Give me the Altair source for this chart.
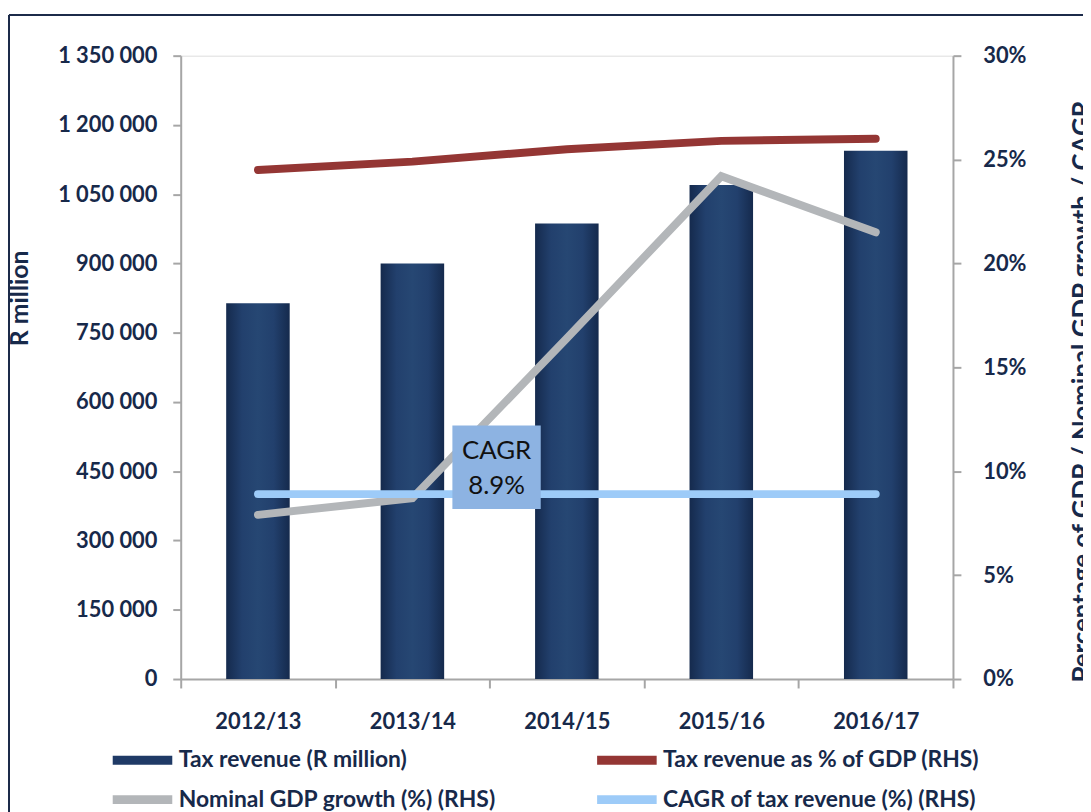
import altair as alt
import pandas as pd

years = ["2012/13", "2013/14", "2014/15", "2015/16", "2016/17"]
tax_revenue = [813826, 899956, 986295, 1069983, 1144081]
tax_pct_gdp = [24.5, 24.9, 25.5, 25.9, 26.0]
gdp_growth = [7.9, 8.7, 16.4, 24.2, 21.5]
cagr = [8.9, 8.9, 8.9, 8.9, 8.9]

series_names = [
    "Tax revenue (R million)",
    "Tax revenue as % of GDP (RHS)",
    "Nominal GDP growth (%) (RHS)",
    "CAGR of tax revenue (%) (RHS)",
]
series_colors = ["#1f3a66", "#943634", "#b3b6b9", "#9dcbf8"]

left_ticks = [0, 150000, 300000, 450000, 600000, 750000, 900000, 1050000, 1200000, 1350000]
right_ticks = [0, 5, 10, 15, 20, 25, 30]

annot_year = ["2013/14"]
annot_value = [8.9]
annot_text = [["CAGR", "8.9%"]]

NAVY = "#17294a"
GREY = "#a6a6a6"
FONT = "Lato"

bars_df = pd.DataFrame({"year": years, "tax": tax_revenue})
rows = []
for name, vals in zip(series_names[1:], [tax_pct_gdp, gdp_growth, cagr]):
    for y, v in zip(years, vals):
        rows.append({"year": y, "series": name, "value": v})
lines_df = pd.DataFrame(rows)
ann_df = pd.DataFrame({"year": annot_year, "value": annot_value, "label": annot_text})

xenc = alt.X(
    "year:N",
    sort=years,
    scale=alt.Scale(paddingInner=0, paddingOuter=0),
    axis=alt.Axis(
        title=None, labelAngle=0, labelFont=FONT, labelFontSize=22, labelFontWeight="bold",
        labelColor=NAVY, labelPadding=24, domainColor=GREY, domainWidth=2, tickColor=GREY,
        tickWidth=2, tickSize=9, tickBand="extent", grid=False,
    ),
)

gradient = alt.Gradient(
    gradient="linear",
    stops=[
        alt.GradientStop(color="#152a4d", offset=0),
        alt.GradientStop(color="#22406d", offset=0.25),
        alt.GradientStop(color="#264773", offset=0.5),
        alt.GradientStop(color="#22406d", offset=0.75),
        alt.GradientStop(color="#152a4d", offset=1),
    ],
    x1=0, x2=1, y1=0, y2=0,
)

bars = alt.Chart(bars_df).mark_bar(size=64, color=gradient).encode(
    x=xenc,
    y=alt.Y(
        "tax:Q",
        scale=alt.Scale(domain=[0, 1350000], nice=False),
        axis=alt.Axis(
            title="R million", values=left_ticks, orient="left",
            labelExpr="replace(format(datum.value, ','), regexp(',', 'g'), ' ')",
            labelFont=FONT, labelFontSize=22, labelFontWeight="bold", labelColor=NAVY,
            labelPadding=16, titleFont=FONT, titleFontSize=25, titleFontWeight="bold",
            titleColor=NAVY, titlePadding=25, titleY=244, domainColor=GREY, domainWidth=2,
            tickColor=GREY, tickWidth=2, tickSize=8, grid=False,
        ),
    ),
)

yright = alt.Scale(domain=[0, 30], nice=False)
right_axis = alt.Axis(
    title="Percentage of GDP / Nominal GDP growth / CAGR", orient="right",
    values=right_ticks, labelExpr="datum.value + '%'",
    labelFont=FONT, labelFontSize=22, labelFontWeight="bold", labelColor=NAVY,
    labelPadding=22, titleFont=FONT, titleFontSize=26, titleFontWeight="bold",
    titleColor=NAVY, titleAngle=270, titlePadding=70, titleY=338, domainColor=GREY,
    domainWidth=2, tickColor=GREY, tickWidth=2, tickSize=8, grid=False,
)

lines = alt.Chart(lines_df).mark_line(strokeWidth=8, strokeCap="round").encode(
    x=xenc,
    y=alt.Y("value:Q", scale=yright, axis=right_axis),
    color=alt.Color(
        "series:N",
        scale=alt.Scale(domain=series_names, range=series_colors),
        legend=alt.Legend(
            title=None, orient="none", legendX=-53, legendY=695, columns=2,
            direction="horizontal", columnPadding=83, rowPadding=3,
            symbolType="M-3,0H3", symbolSize=400, symbolStrokeWidth=9,
            labelFont=FONT, labelFontSize=23, labelFontWeight="bold",
            labelColor=NAVY, labelOffset=22, labelLimit=600,
        ),
    ),
    order=alt.Order("year:N"),
)

box = alt.Chart(ann_df).mark_point(
    shape="M-1,-0.944H1V0.944H-1Z", filled=True, size=89 * 89, color="#8db3e2",
    opacity=1, xOffset=7, yOffset=-27,
).encode(
    x=alt.X("year:N", sort=years, bandPosition=1),
    y=alt.Y("value:Q", scale=yright, axis=right_axis),
)

text = alt.Chart(ann_df).mark_text(
    font=FONT, fontSize=26, color="#111111", lineHeight=35, xOffset=7, yOffset=-43,
    baseline="middle", align="center",
).encode(
    x=alt.X("year:N", sort=years, bandPosition=1),
    y=alt.Y("value:Q", scale=yright, axis=right_axis),
    text="label",
)

frame_v = alt.Chart(bars_df).mark_rule(color="#1c2b4a", strokeWidth=2).encode(
    x=alt.value(-173), y=alt.value(-41), y2=alt.value(900)
)
frame_h = alt.Chart(bars_df).mark_rule(color="#1c2b4a", strokeWidth=2).encode(
    x=alt.value(-173), x2=alt.value(1000), y=alt.value(-41)
)

right = alt.layer(lines, box, text)
chart = (
    alt.layer(bars, right, frame_v, frame_h)
    .resolve_scale(y="independent")
    .properties(
        width=778, height=628,
        autosize=alt.AutoSizeParams(type="none"),
        padding={"left": 174, "top": 45, "right": 131, "bottom": 140},
    )
    .configure_view(stroke=None)
    .configure(background="white")
)

chart.save("out.html", embed_options={"renderer": "svg", "actions": False})
